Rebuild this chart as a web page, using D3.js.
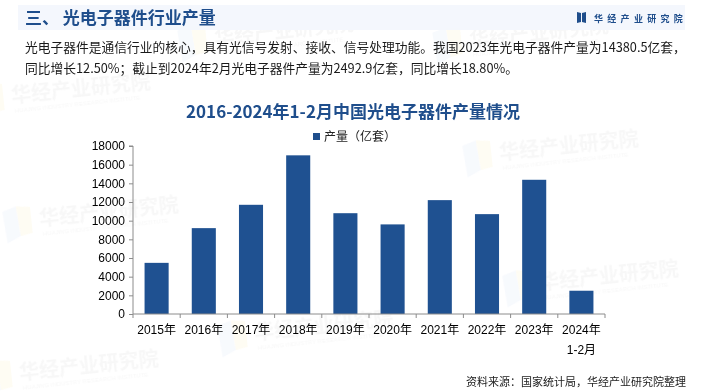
<!DOCTYPE html>
<html>
<head>
<meta charset="utf-8">
<script src="https://cdn.jsdelivr.net/npm/d3@7/dist/d3.min.js"></script>
<style>
  html, body { margin: 0; padding: 0; background: #fff; }
  svg { display: block; }
</style>
</head>
<body>
<div id="chart"></div>
<script>
// data
var years = ["2015年", "2016年", "2017年", "2018年", "2019年", "2020年", "2021年", "2022年", "2023年", "2024年\n1-2月"];
var output = [5480, 9200, 11700, 17000, 10800, 9600, 12200, 10700, 14380.5, 2492.9];
var yTicks = [0, 2000, 4000, 6000, 8000, 10000, 12000, 14000, 16000, 18000];
var textLines = [
  "光电子器件是通信行业的核心，具有光信号发射、接收、信号处理功能。我国2023年光电子器件产量为14380.5亿套，",
  "同比增长12.50%；截止到2024年2月光电子器件产量为2492.9亿套，同比增长18.80%。"
];

var W = 705, H = 392;
var blue = "#1f4e8c";
var cjk = "'Noto Sans CJK SC', 'Noto Sans', sans-serif";
var num = "'Liberation Sans', 'Noto Sans CJK SC', sans-serif";

var svg = d3.select("#chart").append("svg").attr("width", W).attr("height", H);

// faint watermarks (kept inside the frame)
var marks = [[12, 103], [215, 45], [470, 47], [40, 226], [255, 340], [500, 160], [540, 290], [20, 380]];
var wm = svg.append("g").attr("opacity", 0.45);
marks.forEach(function(m) {
  var g = wm.append("g").attr("transform", "translate(" + m[0] + "," + m[1] + ") rotate(-6)");
  g.append("path").attr("d", "M-36,-18 L-22,-22 L-20,8 L-34,14 Z").attr("fill", "#eef3fb");
  g.append("path").attr("d", "M-22,-22 L-8,-20 L-8,6 L-20,8 Z").attr("fill", "#fdf8e4");
  g.append("text").attr("x", 0).attr("y", 0)
    .attr("font-family", cjk).attr("font-weight", "bold").attr("font-size", 20)
    .attr("fill", "#eeeeee").text("华经产业研究院");
  g.append("text").attr("x", 2).attr("y", 10)
    .attr("font-family", num).attr("font-size", 6)
    .attr("fill", "#eeeeee").text("HUAJING INDUSTRY RESEARCH INSTITUTE");
});

// header band
svg.append("rect").attr("x", 18).attr("y", 5).attr("width", 667).attr("height", 25).attr("fill", "#f3f6fd").attr("opacity", 0.9);
svg.append("text").attr("x", 25).attr("y", 24)
  .attr("font-family", cjk).attr("font-weight", "bold").attr("font-size", 17)
  .attr("fill", blue).text("三、 光电子器件行业产量");

// logo at top right
var logo = svg.append("g").attr("transform", "translate(577,12)");
logo.append("path").attr("d", "M0,0 L4,1 L4,10 L0,11 Z").attr("fill", blue);
logo.append("path").attr("d", "M5,1 L9,0 L9,11 L5,10 Z").attr("fill", blue);
logo.append("text").attr("x", 17).attr("y", 9.5)
  .attr("font-family", cjk).attr("font-weight", "bold").attr("font-size", 9)
  .attr("letter-spacing", 4.3).attr("fill", blue).text("华经产业研究院");

// paragraph
svg.selectAll("text.para").data(textLines).enter().append("text")
  .attr("class", "para")
  .attr("x", 25).attr("y", function(d, i) { return 52 + i * 21; })
  .attr("font-family", cjk).attr("font-size", 12.75).attr("fill", "#1a1a1a")
  .text(function(d) { return d; });

// chart title
svg.append("text").attr("x", 353).attr("y", 118).attr("text-anchor", "middle")
  .attr("font-family", cjk).attr("font-weight", "bold").attr("font-size", 17)
  .attr("fill", blue).text("2016-2024年1-2月中国光电子器件产量情况");

// legend
svg.append("rect").attr("x", 313).attr("y", 133).attr("width", 7).attr("height", 7).attr("fill", blue);
svg.append("text").attr("x", 324).attr("y", 141)
  .attr("font-family", cjk).attr("font-size", 12).attr("fill", "#222").text("产量（亿套）");

// scales
var x = d3.scaleBand().domain(years).range([133, 605]).paddingInner(0.49).paddingOuter(0.245);
var y = d3.scaleLinear().domain([0, 18000]).range([314, 146]);

// bars
svg.append("g").selectAll("rect").data(output).enter().append("rect")
  .attr("x", function(d, i) { return x(years[i]); })
  .attr("y", function(d) { return y(d); })
  .attr("width", x.bandwidth())
  .attr("height", function(d) { return y(0) - y(d); })
  .attr("fill", "#1f5191");

// y axis
var yAxis = svg.append("g").attr("transform", "translate(133,0)")
  .call(d3.axisLeft(y).tickValues(yTicks).tickSize(4).tickPadding(4).tickFormat(d3.format("d")));
yAxis.select(".domain").attr("stroke", "#8c8c8c").attr("d", "M-4," + y(18000) + "H0V" + y(0));
yAxis.selectAll(".tick line").attr("stroke", "#8c8c8c");
yAxis.selectAll(".tick text").attr("font-family", num).attr("font-size", 12).attr("fill", "#000");

// x axis
var xAxis = svg.append("g").attr("transform", "translate(0,314)")
  .call(d3.axisBottom(x).tickSize(0).tickFormat(""));
xAxis.select(".domain").attr("stroke", "#8c8c8c").attr("d", "M133,0H605");
var step = x.step();
xAxis.selectAll(".sep").data(d3.range(years.length + 1)).enter().append("line")
  .attr("x1", function(i) { return 133 + i * step; }).attr("x2", function(i) { return 133 + i * step; })
  .attr("y1", 0).attr("y2", 4).attr("stroke", "#8c8c8c");
svg.append("g").selectAll("text").data(years).enter().append("text")
  .attr("text-anchor", "middle")
  .attr("font-family", num).attr("font-size", 12).attr("fill", "#000")
  .attr("transform", function(d) { return "translate(" + (x(d) + x.bandwidth() / 2) + ",334)"; })
  .each(function(d) {
    var t = d3.select(this);
    d.split("\n").forEach(function(line, k) {
      t.append("tspan").attr("x", 0).attr("dy", k === 0 ? 0 : 20).text(line);
    });
  });

// source
svg.append("text").attr("x", 686).attr("y", 386).attr("text-anchor", "end")
  .attr("font-family", cjk).attr("font-size", 11).attr("fill", "#222")
  .text("资料来源：国家统计局，华经产业研究院整理");
</script>
</body>
</html>
